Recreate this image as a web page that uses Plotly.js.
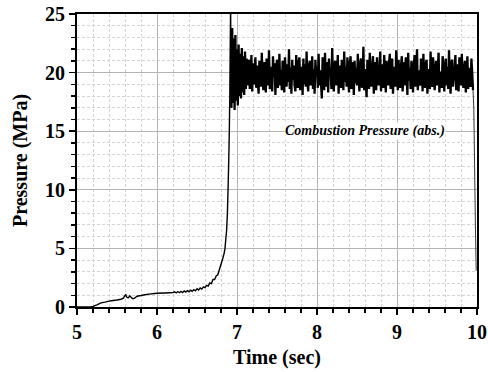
<!DOCTYPE html>
<html>
<head>
<meta charset="utf-8">
<script src="https://cdn.plot.ly/plotly-3.0.1.min.js"></script>
<style>html,body{margin:0;padding:0;background:#fff;}#chart{width:488px;height:372px;}</style>
</head>
<body>
<div id="chart"></div>
<script>
// Ignition / ramp phase: time (s) and pressure (MPa)
var rampTime = [5.00,5.10,5.17,5.20,5.25,5.30,5.35,5.40,5.45,5.50,5.55,5.58,5.60,5.61,5.62,5.64,5.66,5.68,5.70,5.72,5.75,5.80,5.85,5.90,6.00,6.10,6.20,
  6.22,6.24,6.26,6.28,6.30,6.32,6.34,6.36,6.38,6.40,6.42,6.44,6.46,6.48,6.50,6.52,6.54,6.56,6.58,6.60,6.62,6.64,6.66,6.68,6.70,6.72,6.74,6.76,6.78,6.80,6.82,6.84,6.85,
  6.86,6.87,6.88,6.89,6.90,6.905,6.91,6.915,6.92];
var rampPressure = [0.00,0.00,0.00,0.05,0.18,0.35,0.42,0.50,0.55,0.60,0.66,0.75,0.98,1.05,0.85,0.78,0.95,0.80,0.70,0.75,0.92,0.98,1.05,1.10,1.17,1.20,1.24,
  1.30,1.20,1.32,1.22,1.34,1.24,1.37,1.27,1.40,1.30,1.43,1.33,1.48,1.38,1.55,1.45,1.63,1.53,1.72,1.65,1.85,1.78,2.05,2.00,2.35,2.35,2.65,2.75,3.20,3.65,4.10,4.60,5.00,
  5.80,6.50,8.00,10.5,13.5,15.5,18.0,22.0,25.5];

// Steady combustion phase, sampled every 0.01 s from 6.93 s
var steadyStart = 6.93;
var steadyStep = 0.01;
var steadyPressure = [
  17.0,23.8,17.4,22.9,16.8,23.2,17.6,22.0,17.2,22.4,
  18.0,21.6,17.8,22.1,18.3,21.4,18.1,21.8,18.6,21.2,
  18.9,20.4,21.1,18.6,19.3,21.5,18.4,20.8,19.0,20.2,
  21.3,18.7,20.6,19.4,18.2,21.0,20.1,18.8,21.7,19.2,
  18.5,20.9,19.8,18.3,21.2,20.3,18.9,21.9,18.6,20.5,
  19.1,18.4,21.4,19.6,20.8,18.1,20.4,21.1,18.7,19.5,
  21.6,18.9,20.2,18.5,21.0,19.7,18.3,21.3,20.0,18.8,
  20.7,19.2,22.0,18.6,20.4,18.2,21.1,19.4,20.6,18.9,
  18.4,21.5,19.9,18.7,20.9,21.3,18.5,19.6,20.5,18.1,
  21.2,19.0,20.7,18.8,21.8,19.3,18.4,20.6,21.0,18.9,
  19.5,21.4,18.6,20.3,18.2,21.1,19.8,20.5,18.7,21.6,
  18.9,20.2,19.1,17.8,21.3,20.0,18.5,21.7,19.4,18.8,
  20.9,18.3,21.2,19.7,20.4,18.6,22.1,19.0,18.4,20.8,
  21.0,18.9,19.6,21.5,18.2,20.6,19.3,18.7,21.1,20.2,
  18.5,21.8,19.2,20.5,18.8,21.3,19.9,18.3,20.7,21.4,
  18.6,19.5,20.9,18.1,21.0,19.1,20.4,18.9,21.6,19.7,
  18.4,20.8,21.2,18.7,19.4,22.2,18.5,20.3,19.0,17.9,
  21.1,20.5,18.6,21.7,19.3,18.8,20.6,21.4,18.2,19.8,
  20.9,18.5,21.3,19.6,18.9,20.2,21.8,18.4,20.7,19.1,
  18.7,21.5,20.1,18.3,21.0,19.5,18.9,20.8,21.6,18.6,
  19.9,21.2,18.2,20.5,19.4,18.8,21.9,20.3,18.5,21.1,
  19.2,18.7,20.6,21.4,18.4,19.7,20.9,18.9,21.3,20.0,
  18.1,21.7,19.3,20.4,18.6,21.0,19.8,18.3,20.7,21.5,
  18.8,19.6,22.0,18.5,20.2,19.1,18.9,21.2,20.5,18.4,
  21.6,19.4,18.7,20.8,21.1,18.2,19.9,20.3,18.6,21.8,
  19.0,18.8,21.3,20.6,18.5,19.5,21.0,18.9,20.4,21.7,
  18.3,20.1,19.2,18.7,21.4,20.8,18.4,19.7,21.2,18.9,
  20.5,18.6,21.9,19.3,18.2,20.9,21.1,18.8,19.6,20.3,
  21.5,18.5,20.7,19.0,18.4,21.3,20.2,18.9,21.6,19.4,
  18.7,20.6,21.0,18.3,19.8,21.4,18.6,20.4,19.1,18.8,
  21.2,20.0,18.5
];
// Shutdown
var endTime = [9.96, 9.97, 9.98, 9.99];
var endPressure = [17.0, 12.0, 7.0, 3.1];

var steadyTime = steadyPressure.map(function(v, i){ return +(steadyStart + i * steadyStep).toFixed(3); });
var lastT = steadyTime[steadyTime.length - 1];
var lastP = steadyPressure[steadyPressure.length - 1];

var xTicks = [5, 6, 7, 8, 9, 10];
var yTicks = [0, 5, 10, 15, 20, 25];
var annotationText = 'Combustion Pressure (abs.)';

var fontFam = 'Liberation Serif, Times New Roman, serif';

var traces = [
  {x: rampTime.concat([steadyTime[0]]), y: rampPressure.concat([steadyPressure[0]]),
   type: 'scatter', mode: 'lines', line: {color: '#000', width: 1.4, simplify: false}, hoverinfo: 'skip'},
  {x: steadyTime, y: steadyPressure,
   type: 'scatter', mode: 'lines', line: {color: '#000', width: 2.3, simplify: false}, hoverinfo: 'skip'},
  {x: [lastT].concat(endTime), y: [lastP].concat(endPressure),
   type: 'scatter', mode: 'lines', line: {color: '#333', width: 1, simplify: false}, hoverinfo: 'skip'}
];

var axisCommon = {
  showline: true, linecolor: '#000', linewidth: 2, mirror: true,
  ticks: 'outside', ticklen: 6, tickwidth: 1.5, tickcolor: '#000',
  showgrid: true, gridcolor: '#b4b4b4', gridwidth: 1,
  zeroline: false,
  tickfont: {family: fontFam, size: 20, color: '#000'}
};

var minorCommon = {ticks: 'outside', ticklen: 4, tickcolor: '#000', tickwidth: 1.5,
  showgrid: true, gridcolor: '#d4d4d4', griddash: '3px,2px', gridwidth: 1};

var layout = {
  width: 488, height: 372,
  margin: {l: 77, r: 11, t: 14, b: 65},
  paper_bgcolor: '#fff', plot_bgcolor: '#fff',
  showlegend: false,
  xaxis: Object.assign({}, axisCommon, {
    range: [5, 10], tickvals: xTicks, ticktext: xTicks.map(function(v){return '<b>' + v + '</b>';}),
    minor: Object.assign({dtick: 0.2, tick0: 5}, minorCommon),
    title: {text: '<b>Time (sec)</b>', font: {family: fontFam, size: 20, color: '#000'}, standoff: 8}
  }),
  yaxis: Object.assign({}, axisCommon, {
    range: [0, 25], tickvals: yTicks, ticktext: yTicks.map(function(v){return '<b>' + v + '</b>';}),
    minor: Object.assign({dtick: 1, tick0: 0}, minorCommon),
    title: {text: '<b>Pressure (MPa)</b>', font: {family: fontFam, size: 20, color: '#000'}, standoff: 12}
  }),
  annotations: [{
    x: 8.6, y: 15, xref: 'x', yref: 'y', showarrow: false,
    text: '<b><i>' + annotationText + '</i></b>',
    font: {family: fontFam, size: 14, color: '#000'},
    bgcolor: '#fff', borderpad: 0
  }]
};

Plotly.newPlot('chart', traces, layout, {staticPlot: true, displayModeBar: false});
</script>
</body>
</html>
